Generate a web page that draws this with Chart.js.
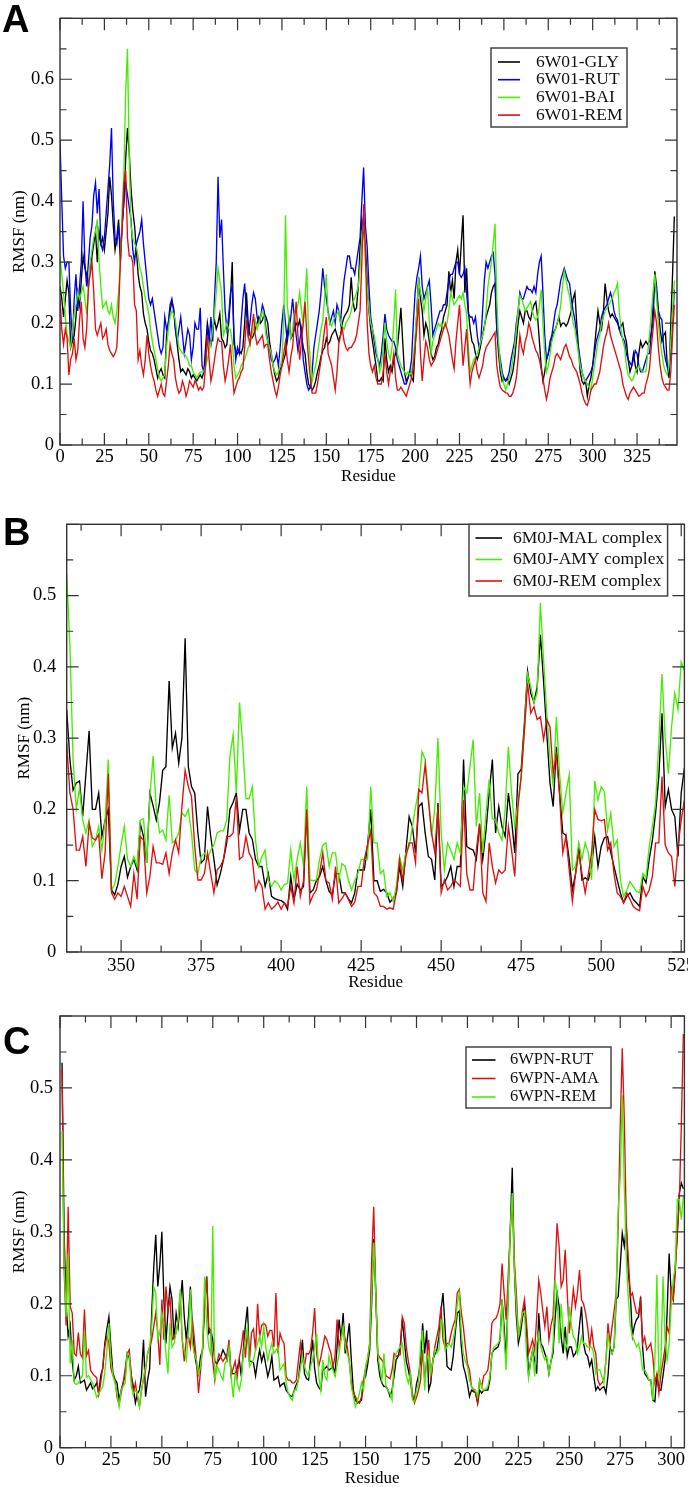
<!DOCTYPE html>
<html>
<head>
<meta charset="utf-8">
<script src="https://cdn.jsdelivr.net/npm/chart.js@4.4.1/dist/chart.umd.min.js"></script>
<style>
  html, body { margin: 0; padding: 0; background: #fff; }
  body { width: 688px; height: 1487px; position: relative; overflow: hidden; }
  canvas { position: absolute; left: 0; }
</style>
</head>
<body>
<canvas id="chart-a" width="688" height="490" style="top:0"></canvas>
<canvas id="chart-b" width="688" height="505" style="top:490px"></canvas>
<canvas id="chart-c" width="688" height="497" style="top:990px"></canvas>
<script>
// ---- panel A : 6W01, residues 0..346
const aStart = 0;
const aGly = [
  0.26, 0.24, 0.21, 0.24, 0.27, 0.25, 0.16, 0.17, 0.18, 0.21,
  0.25, 0.23, 0.27, 0.31, 0.29, 0.28, 0.26, 0.29, 0.31, 0.33,
  0.35, 0.30, 0.35, 0.33, 0.34, 0.32, 0.35, 0.38, 0.44, 0.41,
  0.36, 0.32, 0.34, 0.37, 0.30, 0.36, 0.40, 0.47, 0.52, 0.48,
  0.42, 0.385, 0.36, 0.32, 0.28, 0.26, 0.25, 0.215, 0.20, 0.19,
  0.17, 0.155, 0.15, 0.14, 0.125, 0.11, 0.12, 0.125, 0.115, 0.11,
  0.18, 0.20, 0.22, 0.235, 0.225, 0.19, 0.165, 0.14, 0.12, 0.125,
  0.12, 0.115, 0.125, 0.12, 0.11, 0.115, 0.11, 0.105, 0.11, 0.115,
  0.11, 0.12, 0.16, 0.20, 0.18, 0.165, 0.19, 0.205, 0.19, 0.2,
  0.215, 0.175, 0.17, 0.16, 0.165, 0.2, 0.24, 0.30, 0.165, 0.155,
  0.15, 0.155, 0.15, 0.16, 0.2, 0.25, 0.2, 0.18, 0.175, 0.18,
  0.19, 0.2, 0.21, 0.2, 0.205, 0.215, 0.21, 0.2, 0.17, 0.15,
  0.13, 0.115, 0.105, 0.11, 0.125, 0.13, 0.14, 0.15, 0.18, 0.205,
  0.175, 0.18, 0.19, 0.2, 0.195, 0.205, 0.18, 0.16, 0.15, 0.12,
  0.1, 0.095, 0.09, 0.095, 0.105, 0.12, 0.13, 0.145, 0.155, 0.16,
  0.175, 0.165, 0.17, 0.18, 0.185, 0.19, 0.18, 0.17, 0.18, 0.2,
  0.21, 0.215, 0.22, 0.23, 0.275, 0.235, 0.22, 0.225, 0.26, 0.325,
  0.37, 0.35, 0.325, 0.27, 0.22, 0.19, 0.17, 0.15, 0.13, 0.105,
  0.105, 0.11, 0.105, 0.175, 0.14, 0.12, 0.13, 0.12, 0.14, 0.15,
  0.16, 0.19, 0.225, 0.17, 0.12, 0.105, 0.11, 0.12, 0.11, 0.105,
  0.16, 0.22, 0.275, 0.24, 0.22, 0.18, 0.2, 0.19, 0.17, 0.15,
  0.14, 0.145, 0.16, 0.165, 0.18, 0.19, 0.21, 0.22, 0.23, 0.285,
  0.25, 0.27, 0.24, 0.3, 0.32, 0.28, 0.33, 0.377, 0.25, 0.29,
  0.22, 0.19, 0.17, 0.165, 0.15, 0.14, 0.15, 0.165, 0.18, 0.195,
  0.21, 0.22, 0.23, 0.25, 0.26, 0.265, 0.19, 0.15, 0.12, 0.105,
  0.11, 0.105, 0.11, 0.1, 0.11, 0.12, 0.14, 0.17, 0.2, 0.22,
  0.21, 0.2, 0.22, 0.22, 0.21, 0.205, 0.22, 0.23, 0.235, 0.21,
  0.17, 0.13, 0.105, 0.12, 0.14, 0.15, 0.16, 0.175, 0.185, 0.19,
  0.2, 0.21, 0.195, 0.2, 0.2, 0.195, 0.2, 0.21, 0.22, 0.24,
  0.25, 0.2, 0.16, 0.12, 0.105, 0.1, 0.105, 0.08, 0.1, 0.11,
  0.13, 0.16, 0.19, 0.22, 0.2, 0.19, 0.215, 0.265, 0.24, 0.22,
  0.21, 0.215, 0.21, 0.205, 0.2, 0.19, 0.195, 0.2, 0.18, 0.17,
  0.14, 0.12, 0.13, 0.15, 0.13, 0.12, 0.15, 0.17, 0.16, 0.165,
  0.17, 0.165, 0.17, 0.185, 0.2, 0.285, 0.26, 0.22, 0.19, 0.17,
  0.18, 0.185, 0.13, 0.11, 0.2, 0.28, 0.375
];
const aRut = [
  0.50, 0.40, 0.31, 0.29, 0.30, 0.30, 0.22, 0.17, 0.24, 0.28,
  0.22, 0.26, 0.30, 0.40, 0.30, 0.26, 0.30, 0.34, 0.36, 0.41,
  0.43, 0.38, 0.42, 0.33, 0.32, 0.34, 0.38, 0.42, 0.46, 0.52,
  0.40, 0.34, 0.33, 0.36, 0.32, 0.36, 0.40, 0.43, 0.41, 0.39,
  0.37, 0.32, 0.30, 0.33, 0.34, 0.35, 0.37, 0.33, 0.30, 0.27,
  0.24, 0.23, 0.24, 0.22, 0.20, 0.18, 0.16, 0.15, 0.16, 0.21,
  0.19, 0.20, 0.23, 0.24, 0.22, 0.19, 0.17, 0.19, 0.21, 0.18,
  0.15, 0.17, 0.19, 0.18, 0.14, 0.16, 0.20, 0.19, 0.19, 0.225,
  0.13, 0.12, 0.14, 0.19, 0.17, 0.21, 0.17, 0.24, 0.30, 0.44,
  0.34, 0.37, 0.29, 0.22, 0.19, 0.21, 0.25, 0.26, 0.18, 0.14,
  0.16, 0.15, 0.20, 0.24, 0.265, 0.22, 0.18, 0.20, 0.23, 0.25,
  0.24, 0.21, 0.20, 0.21, 0.23, 0.22, 0.19, 0.17, 0.16, 0.14,
  0.135, 0.14, 0.15, 0.13, 0.16, 0.20, 0.23, 0.20, 0.17, 0.19,
  0.21, 0.24, 0.21, 0.18, 0.155, 0.17, 0.19, 0.14, 0.12, 0.10,
  0.09, 0.095, 0.12, 0.16, 0.18, 0.20, 0.22, 0.25, 0.29, 0.26,
  0.24, 0.22, 0.20, 0.21, 0.22, 0.20, 0.23, 0.22, 0.20, 0.24,
  0.27, 0.29, 0.31, 0.31, 0.29, 0.29, 0.28, 0.30, 0.32, 0.34,
  0.40, 0.455, 0.36, 0.325, 0.26, 0.21, 0.19, 0.17, 0.15, 0.14,
  0.13, 0.15, 0.18, 0.215, 0.19, 0.18, 0.175, 0.17, 0.17, 0.16,
  0.14, 0.13, 0.12, 0.11, 0.10, 0.10, 0.11, 0.12, 0.14, 0.20,
  0.25, 0.275, 0.29, 0.31, 0.26, 0.24, 0.25, 0.26, 0.27, 0.23,
  0.18, 0.19, 0.2, 0.21, 0.22, 0.22, 0.23, 0.23, 0.25, 0.27,
  0.28, 0.28, 0.29, 0.30, 0.30, 0.28, 0.275, 0.28, 0.29, 0.25,
  0.215, 0.21, 0.21, 0.20, 0.21, 0.18, 0.16, 0.17, 0.22, 0.27,
  0.30, 0.29, 0.30, 0.31, 0.315, 0.28, 0.19, 0.16, 0.14, 0.12,
  0.11, 0.105, 0.11, 0.12, 0.14, 0.155, 0.17, 0.20, 0.22, 0.25,
  0.24, 0.24, 0.25, 0.26, 0.255, 0.255, 0.25, 0.26, 0.25, 0.28,
  0.30, 0.31, 0.25, 0.18, 0.14, 0.15, 0.17, 0.18, 0.20, 0.22,
  0.23, 0.25, 0.27, 0.28, 0.29, 0.28, 0.27, 0.265, 0.24, 0.22,
  0.205, 0.18, 0.16, 0.14, 0.12, 0.11, 0.105, 0.11, 0.115, 0.12,
  0.13, 0.15, 0.17, 0.18, 0.19, 0.21, 0.22, 0.225, 0.23, 0.24,
  0.25, 0.24, 0.22, 0.21, 0.205, 0.19, 0.18, 0.175, 0.17, 0.15,
  0.14, 0.135, 0.13, 0.14, 0.155, 0.15, 0.13, 0.12, 0.12, 0.13,
  0.14, 0.15, 0.15, 0.18, 0.23, 0.275, 0.25, 0.22, 0.21, 0.205,
  0.16, 0.14, 0.13, 0.12, 0.15, 0.2, 0.255
];
const aBai = [
  0.31, 0.28, 0.25, 0.21, 0.18, 0.17, 0.16, 0.19, 0.215, 0.23,
  0.25, 0.24, 0.25, 0.26, 0.24, 0.215, 0.25, 0.30, 0.32, 0.34,
  0.35, 0.37, 0.30, 0.26, 0.225, 0.23, 0.235, 0.22, 0.215, 0.23,
  0.21, 0.20, 0.22, 0.25, 0.30, 0.385, 0.45, 0.58, 0.65, 0.47,
  0.36, 0.34, 0.33, 0.325, 0.31, 0.29, 0.28, 0.26, 0.24, 0.23,
  0.215, 0.19, 0.17, 0.155, 0.14, 0.125, 0.11, 0.105, 0.11, 0.115,
  0.16, 0.19, 0.21, 0.22, 0.215, 0.205, 0.18, 0.16, 0.155, 0.15,
  0.15, 0.145, 0.14, 0.13, 0.13, 0.12, 0.115, 0.11, 0.115, 0.12,
  0.12, 0.12, 0.13, 0.14, 0.155, 0.17, 0.19, 0.215, 0.25, 0.29,
  0.27, 0.25, 0.18, 0.19, 0.2, 0.19, 0.19, 0.17, 0.13, 0.11,
  0.115, 0.12, 0.13, 0.135, 0.14, 0.15, 0.16, 0.165, 0.18, 0.19,
  0.205, 0.19, 0.2, 0.21, 0.22, 0.21, 0.18, 0.17, 0.16, 0.15,
  0.13, 0.12, 0.115, 0.12, 0.13, 0.14, 0.2, 0.377, 0.23, 0.2,
  0.175, 0.19, 0.215, 0.22, 0.23, 0.25, 0.22, 0.2, 0.24, 0.29,
  0.175, 0.14, 0.105, 0.12, 0.13, 0.15, 0.17, 0.19, 0.205, 0.24,
  0.28, 0.215, 0.2, 0.195, 0.205, 0.21, 0.215, 0.22, 0.2, 0.195,
  0.19, 0.2, 0.205, 0.21, 0.22, 0.235, 0.24, 0.25, 0.26, 0.29,
  0.34, 0.37, 0.3, 0.26, 0.225, 0.2, 0.19, 0.18, 0.16, 0.14,
  0.12, 0.13, 0.16, 0.2, 0.17, 0.15, 0.14, 0.16, 0.2, 0.255,
  0.15, 0.14, 0.13, 0.125, 0.12, 0.115, 0.12, 0.115, 0.12, 0.14,
  0.18, 0.22, 0.27, 0.25, 0.24, 0.22, 0.24, 0.26, 0.2, 0.15,
  0.17, 0.18, 0.19, 0.2, 0.195, 0.2, 0.19, 0.195, 0.2, 0.22,
  0.25, 0.24, 0.23, 0.235, 0.24, 0.245, 0.24, 0.25, 0.23, 0.215,
  0.16, 0.12, 0.13, 0.14, 0.145, 0.15, 0.16, 0.17, 0.18, 0.19,
  0.22, 0.26, 0.28, 0.30, 0.33, 0.363, 0.24, 0.17, 0.13, 0.115,
  0.1, 0.09, 0.1, 0.11, 0.12, 0.14, 0.16, 0.19, 0.22, 0.245,
  0.24, 0.23, 0.22, 0.225, 0.23, 0.235, 0.22, 0.21, 0.205, 0.21,
  0.23, 0.255, 0.2, 0.15, 0.12, 0.13, 0.15, 0.17, 0.18, 0.19,
  0.2, 0.21, 0.23, 0.26, 0.285, 0.27, 0.255, 0.245, 0.22, 0.2,
  0.19, 0.17, 0.15, 0.13, 0.12, 0.11, 0.105, 0.1, 0.095, 0.09,
  0.11, 0.13, 0.15, 0.17, 0.18, 0.2, 0.21, 0.22, 0.225, 0.23,
  0.235, 0.24, 0.25, 0.255, 0.265, 0.22, 0.19, 0.17, 0.16, 0.13,
  0.115, 0.11, 0.105, 0.11, 0.12, 0.125, 0.13, 0.125, 0.12, 0.12,
  0.12, 0.15, 0.18, 0.215, 0.25, 0.28, 0.24, 0.2, 0.17, 0.15,
  0.13, 0.12, 0.115, 0.13, 0.17, 0.22, 0.27
];
const aRem = [
  0.24, 0.19, 0.165, 0.19, 0.175, 0.115, 0.14, 0.15, 0.175, 0.14,
  0.155, 0.205, 0.235, 0.175, 0.16, 0.19, 0.26, 0.28, 0.30, 0.25,
  0.19, 0.18, 0.19, 0.2, 0.175, 0.18, 0.19, 0.165, 0.155, 0.15,
  0.145, 0.15, 0.16, 0.22, 0.30, 0.36, 0.43, 0.45, 0.34, 0.31,
  0.31, 0.30, 0.23, 0.22, 0.14, 0.155, 0.13, 0.115, 0.14, 0.18,
  0.15, 0.13, 0.115, 0.105, 0.09, 0.08, 0.09, 0.10, 0.085, 0.08,
  0.105, 0.13, 0.165, 0.15, 0.14, 0.11, 0.095, 0.085, 0.09, 0.105,
  0.095, 0.08, 0.09, 0.105, 0.1, 0.095, 0.105, 0.1, 0.09, 0.095,
  0.09, 0.095, 0.13, 0.18, 0.14, 0.105, 0.12, 0.14, 0.16, 0.175,
  0.17, 0.17, 0.13, 0.105, 0.12, 0.14, 0.165, 0.12, 0.085, 0.095,
  0.105, 0.11, 0.12, 0.125, 0.16, 0.205, 0.18, 0.165, 0.19, 0.215,
  0.18, 0.165, 0.17, 0.175, 0.18, 0.16, 0.165, 0.165, 0.14, 0.12,
  0.105, 0.09, 0.08, 0.095, 0.115, 0.13, 0.15, 0.17, 0.14, 0.12,
  0.145, 0.16, 0.2, 0.235, 0.18, 0.14, 0.17, 0.2, 0.235, 0.18,
  0.14, 0.11, 0.085, 0.085, 0.085, 0.1, 0.12, 0.14, 0.165, 0.19,
  0.21, 0.15, 0.14, 0.13, 0.11, 0.09, 0.12, 0.165, 0.18, 0.19,
  0.17, 0.16, 0.155, 0.16, 0.16, 0.165, 0.17, 0.18, 0.2, 0.22,
  0.3, 0.395, 0.32, 0.2, 0.15, 0.13, 0.12, 0.13, 0.11, 0.1,
  0.1, 0.1, 0.12, 0.15, 0.12, 0.1, 0.12, 0.13, 0.15, 0.11,
  0.09, 0.09, 0.095, 0.09, 0.085, 0.08, 0.09, 0.1, 0.11, 0.13,
  0.16, 0.195, 0.24, 0.15, 0.105, 0.14, 0.17, 0.16, 0.14, 0.13,
  0.135, 0.14, 0.15, 0.16, 0.17, 0.18, 0.19, 0.2, 0.19, 0.18,
  0.16, 0.14, 0.125, 0.17, 0.2, 0.23, 0.18, 0.13, 0.16, 0.19,
  0.14, 0.1, 0.12, 0.13, 0.14, 0.12, 0.11, 0.12, 0.13, 0.15,
  0.16, 0.165, 0.17, 0.175, 0.18, 0.185, 0.13, 0.11, 0.095, 0.09,
  0.088, 0.086, 0.085, 0.08, 0.08, 0.085, 0.095, 0.11, 0.14, 0.18,
  0.16, 0.15, 0.17, 0.18, 0.2, 0.19, 0.175, 0.165, 0.155, 0.15,
  0.14, 0.125, 0.11, 0.09, 0.075, 0.09, 0.11, 0.12, 0.13, 0.145,
  0.15, 0.145, 0.14, 0.15, 0.16, 0.165, 0.155, 0.145, 0.14, 0.13,
  0.125, 0.12, 0.11, 0.1, 0.085, 0.075, 0.068, 0.065, 0.075, 0.09,
  0.095, 0.1, 0.1, 0.11, 0.12, 0.14, 0.16, 0.175, 0.185, 0.2,
  0.18, 0.17, 0.16, 0.15, 0.14, 0.13, 0.12, 0.1, 0.09, 0.08,
  0.075, 0.085, 0.09, 0.095, 0.09, 0.085, 0.08, 0.082, 0.085, 0.085,
  0.1, 0.11, 0.125, 0.16, 0.19, 0.22, 0.2, 0.16, 0.13, 0.11,
  0.1, 0.095, 0.09, 0.09, 0.12, 0.18, 0.23
];
const aXTicks = [0, 25, 50, 75, 100, 125, 150, 175, 200, 225, 250, 275, 300, 325];
const aYTicks = [0, 0.1, 0.2, 0.3, 0.4, 0.5, 0.6];

// ---- panel B : 6M0J, residues 333..526
const bStart = 333;
const bMal = [
  0.34, 0.27, 0.227, 0.237, 0.24, 0.19, 0.25,
  0.31, 0.2, 0.2, 0.223, 0.162, 0.185, 0.2, 0.087, 0.08, 0.095,
  0.12, 0.134, 0.105, 0.12, 0.13, 0.115, 0.18, 0.162, 0.125, 0.223,
  0.205, 0.185, 0.21, 0.255, 0.26, 0.38, 0.286, 0.307, 0.265, 0.3,
  0.44, 0.26, 0.232, 0.223, 0.167, 0.125, 0.13, 0.204, 0.162, 0.13,
  0.094, 0.11, 0.13, 0.153, 0.2, 0.21, 0.223, 0.17, 0.2, 0.2,
  0.167, 0.158, 0.13, 0.12, 0.12, 0.092, 0.11, 0.078, 0.075, 0.073,
  0.072, 0.069, 0.06, 0.106, 0.073, 0.095, 0.087, 0.092, 0.2, 0.083,
  0.087, 0.1, 0.106, 0.12, 0.1, 0.085, 0.08, 0.11, 0.11, 0.083,
  0.083, 0.075, 0.069, 0.083, 0.115, 0.115, 0.115, 0.15, 0.2, 0.1,
  0.1, 0.085, 0.088, 0.083, 0.07, 0.075, 0.083, 0.12, 0.092, 0.143,
  0.19, 0.176, 0.139, 0.204, 0.209, 0.167, 0.134, 0.13, 0.101, 0.209,
  0.092, 0.097, 0.106, 0.12, 0.092, 0.12, 0.12, 0.27, 0.148, 0.145,
  0.143, 0.13, 0.18, 0.13, 0.17, 0.223, 0.27, 0.167, 0.204, 0.176,
  0.162, 0.223, 0.185, 0.139, 0.25, 0.256, 0.32, 0.394, 0.363, 0.35,
  0.372, 0.445, 0.38, 0.307, 0.237, 0.204, 0.288, 0.223, 0.167, 0.164,
  0.13, 0.087, 0.11, 0.148, 0.101, 0.104, 0.101, 0.12, 0.162, 0.12,
  0.148, 0.16, 0.162, 0.139, 0.12, 0.101, 0.083, 0.069, 0.078, 0.083,
  0.074, 0.069, 0.064, 0.106, 0.097, 0.13, 0.157, 0.195, 0.246, 0.335,
  0.204, 0.228, 0.2, 0.19, 0.134, 0.223, 0.258
];
const bAmy = [
  0.53, 0.43, 0.27, 0.2, 0.23, 0.185, 0.167,
  0.185, 0.148, 0.157, 0.176, 0.143, 0.185, 0.27, 0.087, 0.095, 0.12,
  0.15, 0.176, 0.13, 0.12, 0.134, 0.12, 0.185, 0.187, 0.125, 0.22,
  0.275, 0.2, 0.167, 0.171, 0.157, 0.22, 0.153, 0.157, 0.167, 0.195,
  0.19, 0.2, 0.167, 0.115, 0.11, 0.134, 0.139, 0.13, 0.143, 0.15,
  0.167, 0.17, 0.17, 0.185, 0.275, 0.305, 0.223, 0.35, 0.29, 0.215,
  0.215, 0.232, 0.157, 0.12, 0.134, 0.143, 0.101, 0.092, 0.1, 0.096,
  0.087, 0.095, 0.096, 0.143, 0.101, 0.13, 0.153, 0.12, 0.232, 0.101,
  0.1, 0.101, 0.13, 0.15, 0.153, 0.12, 0.139, 0.139, 0.101, 0.124,
  0.12, 0.101, 0.087, 0.1, 0.11, 0.13, 0.13, 0.13, 0.232, 0.153,
  0.153, 0.11, 0.115, 0.078, 0.083, 0.071, 0.092, 0.134, 0.115, 0.139,
  0.148, 0.176, 0.204, 0.227, 0.281, 0.27, 0.223, 0.162, 0.2, 0.3,
  0.167, 0.115, 0.153, 0.143, 0.13, 0.153, 0.139, 0.232, 0.223, 0.26,
  0.298, 0.176, 0.223, 0.139, 0.195, 0.242, 0.187, 0.185, 0.167, 0.157,
  0.2, 0.288, 0.223, 0.176, 0.21, 0.246, 0.31, 0.39, 0.372, 0.35,
  0.363, 0.49, 0.41, 0.335, 0.274, 0.232, 0.33, 0.25, 0.195, 0.223,
  0.249, 0.115, 0.12, 0.153, 0.13, 0.153, 0.139, 0.101, 0.24, 0.213,
  0.232, 0.225, 0.171, 0.195, 0.148, 0.157, 0.101, 0.078, 0.087, 0.099,
  0.092, 0.085, 0.083, 0.11, 0.105, 0.148, 0.176, 0.209, 0.293, 0.39,
  0.3, 0.25, 0.316, 0.363, 0.34, 0.407, 0.395
];
const bRem = [
  0.293, 0.223, 0.2, 0.143, 0.143, 0.162, 0.12,
  0.18, 0.16, 0.157, 0.165, 0.103, 0.139, 0.25, 0.083, 0.074, 0.083,
  0.078, 0.092, 0.078, 0.064, 0.11, 0.074, 0.162, 0.157, 0.083, 0.106,
  0.148, 0.125, 0.125, 0.123, 0.139, 0.11, 0.139, 0.157, 0.139, 0.204,
  0.255, 0.232, 0.218, 0.148, 0.101, 0.101, 0.11, 0.139, 0.11, 0.083,
  0.115, 0.12, 0.13, 0.162, 0.162, 0.167, 0.218, 0.13, 0.134, 0.162,
  0.139, 0.13, 0.087, 0.1, 0.092, 0.06, 0.069, 0.06, 0.064, 0.07,
  0.06, 0.069, 0.064, 0.092, 0.069, 0.12, 0.078, 0.1, 0.2, 0.069,
  0.08, 0.087, 0.11, 0.139, 0.1, 0.097, 0.074, 0.12, 0.069, 0.075,
  0.083, 0.074, 0.064, 0.07, 0.092, 0.092, 0.13, 0.15, 0.17, 0.083,
  0.078, 0.064, 0.064, 0.06, 0.062, 0.06, 0.083, 0.13, 0.101, 0.134,
  0.153, 0.153, 0.125, 0.228, 0.223, 0.263, 0.213, 0.167, 0.14, 0.204,
  0.083, 0.101, 0.087, 0.092, 0.101, 0.097, 0.092, 0.213, 0.11, 0.087,
  0.087, 0.143, 0.18, 0.083, 0.071, 0.153, 0.12, 0.097, 0.115, 0.11,
  0.115, 0.176, 0.143, 0.106, 0.204, 0.246, 0.31, 0.377, 0.335, 0.344,
  0.326, 0.33, 0.298, 0.326, 0.316, 0.25, 0.277, 0.22, 0.139, 0.162,
  0.115, 0.071, 0.11, 0.139, 0.11, 0.083, 0.11, 0.139, 0.2, 0.186,
  0.184, 0.186, 0.143, 0.153, 0.11, 0.083, 0.078, 0.069, 0.083, 0.074,
  0.064, 0.06, 0.058, 0.092, 0.078, 0.087, 0.106, 0.153, 0.153, 0.246,
  0.15, 0.139, 0.134, 0.092, 0.148, 0.185, 0.213
];
const bXTicks = [350, 375, 400, 425, 450, 475, 500, 525];
const bYTicks = [0, 0.1, 0.2, 0.3, 0.4, 0.5];

// ---- panel C : 6WPN, residues 1..306
const cStart = 1;
const cRut = [
  0.535, 0.3, 0.2, 0.155, 0.17, 0.12, 0.094, 0.1, 0.113, 0.09,
  0.092, 0.094, 0.08, 0.085, 0.09, 0.082, 0.085, 0.09, 0.075, 0.1,
  0.11, 0.145, 0.165, 0.182, 0.14, 0.103, 0.095, 0.09, 0.066, 0.08,
  0.09, 0.1, 0.131, 0.125, 0.1, 0.085, 0.062, 0.075, 0.08, 0.1,
  0.15, 0.071, 0.094, 0.11, 0.187, 0.25, 0.296, 0.224, 0.254, 0.3,
  0.206, 0.145, 0.19, 0.224, 0.206, 0.15, 0.187, 0.168, 0.2, 0.233,
  0.182, 0.15, 0.18, 0.224, 0.168, 0.131, 0.115, 0.103, 0.127, 0.136,
  0.2, 0.238, 0.159, 0.164, 0.15, 0.12, 0.117, 0.122, 0.127, 0.136,
  0.13, 0.122, 0.14, 0.103, 0.103, 0.103, 0.11, 0.122, 0.099, 0.136,
  0.17, 0.196, 0.12, 0.12, 0.118, 0.1, 0.12, 0.136, 0.12, 0.131,
  0.115, 0.099, 0.11, 0.127, 0.094, 0.096, 0.099, 0.085, 0.088, 0.09,
  0.08, 0.076, 0.072, 0.071, 0.08, 0.088, 0.094, 0.12, 0.15, 0.103,
  0.096, 0.094, 0.122, 0.15, 0.11, 0.09, 0.084, 0.08, 0.108, 0.11,
  0.113, 0.108, 0.11, 0.113, 0.103, 0.14, 0.178, 0.15, 0.187, 0.131,
  0.15, 0.173, 0.122, 0.08, 0.066, 0.062, 0.064, 0.066, 0.094, 0.099,
  0.115, 0.136, 0.2, 0.29, 0.215, 0.122, 0.1, 0.09, 0.085, 0.085,
  0.08, 0.071, 0.08, 0.1, 0.122, 0.127, 0.14, 0.178, 0.15, 0.12,
  0.108, 0.094, 0.071, 0.066, 0.089, 0.1, 0.122, 0.173, 0.131, 0.163,
  0.08, 0.09, 0.122, 0.13, 0.136, 0.154, 0.19, 0.215, 0.168, 0.113,
  0.11, 0.108, 0.127, 0.159, 0.187, 0.19, 0.14, 0.113, 0.103, 0.089,
  0.071, 0.08, 0.078, 0.076, 0.062, 0.08, 0.076, 0.08, 0.08, 0.08,
  0.094, 0.131, 0.136, 0.138, 0.14, 0.15, 0.206, 0.168, 0.122, 0.215,
  0.3, 0.389, 0.252, 0.182, 0.145, 0.159, 0.18, 0.196, 0.164, 0.1,
  0.12, 0.136, 0.122, 0.103, 0.187, 0.145, 0.14, 0.131, 0.122, 0.103,
  0.12, 0.131, 0.178, 0.215, 0.196, 0.154, 0.131, 0.168, 0.127, 0.14,
  0.14, 0.127, 0.131, 0.14, 0.17, 0.196, 0.145, 0.131, 0.127, 0.113,
  0.122, 0.1, 0.08, 0.085, 0.08, 0.083, 0.085, 0.076, 0.1, 0.14,
  0.131, 0.14, 0.206, 0.21, 0.252, 0.298, 0.28, 0.308, 0.243, 0.21,
  0.155, 0.17, 0.178, 0.182, 0.21, 0.14, 0.103, 0.099, 0.094, 0.094,
  0.066, 0.064, 0.103, 0.08, 0.08, 0.1, 0.122, 0.187, 0.27, 0.215,
  0.206, 0.252, 0.294, 0.354, 0.368, 0.36
];
const cAma = [
  0.525, 0.25, 0.17, 0.335, 0.196, 0.187, 0.131, 0.128, 0.16, 0.13,
  0.125, 0.192, 0.128, 0.135, 0.108, 0.103, 0.1, 0.097, 0.075, 0.09,
  0.113, 0.14, 0.155, 0.146, 0.11, 0.1, 0.094, 0.07, 0.06, 0.075,
  0.09, 0.11, 0.131, 0.136, 0.1, 0.075, 0.09, 0.07, 0.057, 0.08,
  0.095, 0.108, 0.131, 0.14, 0.15, 0.168, 0.187, 0.16, 0.115, 0.206,
  0.15, 0.224, 0.19, 0.21, 0.15, 0.155, 0.16, 0.175, 0.215, 0.15,
  0.12, 0.15, 0.155, 0.14, 0.178, 0.15, 0.12, 0.076, 0.108, 0.14,
  0.2, 0.238, 0.168, 0.159, 0.12, 0.094, 0.117, 0.13, 0.125, 0.12,
  0.125, 0.13, 0.15, 0.1, 0.11, 0.12, 0.099, 0.125, 0.14, 0.163,
  0.125, 0.163, 0.12, 0.16, 0.165, 0.135, 0.2, 0.154, 0.17, 0.173,
  0.17, 0.155, 0.163, 0.163, 0.14, 0.215, 0.131, 0.159, 0.15, 0.145,
  0.099, 0.094, 0.094, 0.09, 0.09, 0.094, 0.12, 0.145, 0.122, 0.113,
  0.131, 0.13, 0.136, 0.16, 0.194, 0.13, 0.113, 0.125, 0.14, 0.155,
  0.15, 0.14, 0.131, 0.113, 0.127, 0.178, 0.14, 0.155, 0.168, 0.15,
  0.14, 0.12, 0.09, 0.076, 0.071, 0.065, 0.062, 0.071, 0.094, 0.11,
  0.122, 0.145, 0.261, 0.335, 0.215, 0.131, 0.125, 0.122, 0.117, 0.1,
  0.098, 0.096, 0.108, 0.131, 0.127, 0.128, 0.129, 0.182, 0.173, 0.14,
  0.12, 0.103, 0.076, 0.062, 0.07, 0.08, 0.094, 0.136, 0.094, 0.122,
  0.15, 0.094, 0.12, 0.14, 0.154, 0.168, 0.196, 0.15, 0.14, 0.145,
  0.145, 0.159, 0.17, 0.178, 0.215, 0.22, 0.187, 0.168, 0.14, 0.117,
  0.108, 0.085, 0.08, 0.076, 0.062, 0.094, 0.085, 0.1, 0.103, 0.108,
  0.131, 0.173, 0.178, 0.18, 0.187, 0.2, 0.256, 0.215, 0.178, 0.238,
  0.3, 0.35, 0.261, 0.215, 0.155, 0.168, 0.19, 0.206, 0.173, 0.131,
  0.14, 0.15, 0.136, 0.182, 0.233, 0.215, 0.19, 0.168, 0.196, 0.15,
  0.17, 0.182, 0.243, 0.312, 0.28, 0.224, 0.233, 0.275, 0.215, 0.159,
  0.19, 0.22, 0.196, 0.215, 0.247, 0.206, 0.2, 0.187, 0.168, 0.14,
  0.164, 0.14, 0.131, 0.094, 0.087, 0.09, 0.094, 0.122, 0.173, 0.145,
  0.168, 0.19, 0.215, 0.308, 0.447, 0.555, 0.456, 0.308, 0.261, 0.21,
  0.215, 0.2, 0.187, 0.187, 0.204, 0.145, 0.154, 0.136, 0.14, 0.145,
  0.127, 0.09, 0.103, 0.076, 0.103, 0.12, 0.14, 0.168, 0.159, 0.224,
  0.206, 0.243, 0.3, 0.34, 0.45, 0.575
];
const cRem = [
  0.44, 0.26, 0.182, 0.27, 0.117, 0.15, 0.09, 0.088, 0.09, 0.095,
  0.1, 0.163, 0.098, 0.1, 0.095, 0.09, 0.08, 0.07, 0.075, 0.08,
  0.085, 0.105, 0.135, 0.173, 0.122, 0.1, 0.09, 0.075, 0.057, 0.08,
  0.085, 0.09, 0.131, 0.128, 0.085, 0.075, 0.08, 0.075, 0.057, 0.08,
  0.099, 0.113, 0.131, 0.14, 0.168, 0.224, 0.215, 0.15, 0.16, 0.187,
  0.173, 0.131, 0.103, 0.173, 0.14, 0.145, 0.16, 0.178, 0.22, 0.15,
  0.135, 0.122, 0.154, 0.22, 0.145, 0.13, 0.122, 0.103, 0.113, 0.14,
  0.238, 0.17, 0.14, 0.13, 0.308, 0.094, 0.113, 0.108, 0.1, 0.094,
  0.117, 0.122, 0.14, 0.1, 0.07, 0.103, 0.09, 0.08, 0.094, 0.132,
  0.15, 0.168, 0.113, 0.118, 0.122, 0.136, 0.145, 0.155, 0.14, 0.168,
  0.14, 0.122, 0.135, 0.145, 0.131, 0.135, 0.14, 0.108, 0.112, 0.117,
  0.09, 0.076, 0.07, 0.066, 0.08, 0.08, 0.094, 0.11, 0.127, 0.113,
  0.105, 0.099, 0.113, 0.122, 0.14, 0.159, 0.1, 0.08, 0.122, 0.1,
  0.094, 0.127, 0.115, 0.108, 0.099, 0.115, 0.131, 0.15, 0.168, 0.14,
  0.13, 0.122, 0.085, 0.071, 0.057, 0.065, 0.076, 0.09, 0.08, 0.113,
  0.125, 0.145, 0.215, 0.285, 0.215, 0.131, 0.11, 0.094, 0.131, 0.085,
  0.08, 0.075, 0.066, 0.122, 0.131, 0.136, 0.14, 0.145, 0.122, 0.1,
  0.09, 0.103, 0.066, 0.064, 0.08, 0.09, 0.145, 0.163, 0.08, 0.122,
  0.131, 0.103, 0.12, 0.136, 0.131, 0.136, 0.178, 0.173, 0.136, 0.14,
  0.145, 0.14, 0.15, 0.168, 0.2, 0.215, 0.159, 0.131, 0.12, 0.113,
  0.094, 0.085, 0.082, 0.08, 0.071, 0.094, 0.085, 0.08, 0.082, 0.085,
  0.099, 0.131, 0.14, 0.142, 0.145, 0.15, 0.206, 0.154, 0.108, 0.215,
  0.3, 0.354, 0.252, 0.196, 0.155, 0.17, 0.187, 0.19, 0.131, 0.097,
  0.12, 0.136, 0.099, 0.145, 0.159, 0.14, 0.13, 0.122, 0.127, 0.103,
  0.12, 0.14, 0.233, 0.215, 0.145, 0.2, 0.16, 0.136, 0.145, 0.196,
  0.17, 0.154, 0.15, 0.131, 0.14, 0.154, 0.145, 0.145, 0.14, 0.14,
  0.14, 0.131, 0.103, 0.108, 0.108, 0.099, 0.09, 0.122, 0.159, 0.136,
  0.131, 0.14, 0.215, 0.331, 0.377, 0.49, 0.363, 0.261, 0.206, 0.168,
  0.155, 0.148, 0.14, 0.145, 0.131, 0.108, 0.108, 0.103, 0.094, 0.094,
  0.066, 0.122, 0.24, 0.094, 0.12, 0.238, 0.15, 0.122, 0.145, 0.196,
  0.233, 0.252, 0.345, 0.345, 0.317, 0.35
];
const cXTicks = [0, 25, 50, 75, 100, 125, 150, 175, 200, 225, 250, 275, 300];
const cYTicks = [0, 0.1, 0.2, 0.3, 0.4, 0.5];

const BLACK = '#000000', BLUE = '#0000f0', GREEN = '#44ee00', RED = '#dd1010';
const SERIF = '"Liberation Serif", "Times New Roman", serif';

// xmgrace style frame: box, inward major/minor ticks on four sides, legend box, panel letter
const graceFrame = {
  id: 'graceFrame',
  afterDatasetsDraw(chart, args, opts) {
    const { ctx, chartArea: a, scales: { x, y } } = chart;
    ctx.save();
    ctx.strokeStyle = '#333';
    ctx.lineWidth = 1.4;
    ctx.strokeRect(a.left, a.top, a.right - a.left, a.bottom - a.top);

    ctx.lineWidth = 1.2;
    ctx.beginPath();
    for (let k = Math.ceil(x.min / opts.xStep - 1e-9); k * opts.xStep <= x.max + 1e-9; k++) {
      const px = x.getPixelForValue(k * opts.xStep);
      const len = k % 2 === 0 ? 12 : 6.5;
      ctx.moveTo(px, a.bottom); ctx.lineTo(px, a.bottom - len);
      ctx.moveTo(px, a.top); ctx.lineTo(px, a.top + len);
    }
    for (let k = Math.ceil(y.min / opts.yStep - 1e-9); k * opts.yStep <= y.max + 1e-9; k++) {
      const py = y.getPixelForValue(k * opts.yStep);
      const len = k % 2 === 0 ? 12 : 6.5;
      ctx.moveTo(a.left, py); ctx.lineTo(a.left + len, py);
      ctx.moveTo(a.right, py); ctx.lineTo(a.right - len, py);
    }
    ctx.stroke();

    const L = opts.legend;
    ctx.fillStyle = '#fff';
    ctx.fillRect(L.x, L.y, L.w, L.h);
    ctx.strokeStyle = '#444';
    ctx.lineWidth = 1.5;
    ctx.strokeRect(L.x, L.y, L.w, L.h);
    ctx.font = L.size + 'px ' + SERIF;
    ctx.textBaseline = 'middle';
    ctx.textAlign = 'left';
    chart.data.datasets.forEach((ds, i) => {
      const yy = L.row0 + i * L.gap;
      ctx.strokeStyle = ds.borderColor;
      ctx.lineWidth = 1.6;
      ctx.beginPath(); ctx.moveTo(L.x1, yy); ctx.lineTo(L.x2, yy); ctx.stroke();
      ctx.fillStyle = '#111';
      ctx.fillText(ds.label, L.tx, yy);
    });

    ctx.font = 'bold 38px "Liberation Sans", Arial, sans-serif';
    ctx.fillStyle = '#000';
    ctx.textBaseline = 'alphabetic';
    ctx.fillText(opts.letter, opts.letterX, opts.letterY);
    ctx.restore();
  }
};

function makePanel(id, p) {
  const residues = p.series[0].values.map((_, i) => p.start + i);
  const n = p.series.length;
  return new Chart(document.getElementById(id), {
    type: 'line',
    data: {
      datasets: p.series.map((s, i) => ({
        label: s.label,
        data: residues.map((r, k) => ({ x: r, y: s.values[k] })),
        borderColor: s.color,
        borderWidth: 1.35,
        pointRadius: 0,
        tension: 0,
        fill: false,
        order: n - i
      }))
    },
    plugins: [graceFrame],
    options: {
      responsive: false,
      animation: false,
      events: [],
      layout: { padding: { left: 0, top: p.area.top, right: 688 - p.area.right, bottom: 0 } },
      plugins: {
        legend: { display: false },
        tooltip: { enabled: false },
        graceFrame: { xStep: p.xStep, yStep: 0.05, legend: p.legend, letter: p.letter, letterX: p.letterX, letterY: p.letterY }
      },
      scales: {
        x: {
          type: 'linear', min: p.xMin, max: p.xMax,
          grid: { display: false, drawTicks: false },
          border: { display: false },
          ticks: { autoSkip: false, maxRotation: 0, color: '#000', padding: p.xPad,
                   font: { family: SERIF, size: 18.5 }, callback: v => String(v) },
          afterBuildTicks: s => { s.ticks = p.xTicks.map(v => ({ value: v })); },
          afterFit: s => { s.height = p.h - p.area.bottom; s.paddingLeft = 0; s.paddingRight = 0; },
          title: { display: true, text: 'Residue', color: '#000',
                   font: { family: SERIF, size: 17, lineHeight: 1 }, padding: { top: 0, bottom: p.xTitlePad } }
        },
        y: {
          type: 'linear', min: 0, max: p.yMax,
          grid: { display: false, drawTicks: false },
          border: { display: false },
          ticks: { autoSkip: false, color: '#000', padding: p.yPad,
                   font: { family: SERIF, size: 18.5 }, callback: v => String(v) },
          afterBuildTicks: s => { s.ticks = p.yTicks.map(v => ({ value: v })); },
          afterFit: s => { s.width = p.area.left; s.paddingTop = 0; s.paddingBottom = 0; },
          title: { display: true, text: 'RMSF (nm)', color: '#000',
                   font: { family: SERIF, size: 17, lineHeight: 1 }, padding: { top: p.yTitlePad, bottom: 0 } }
        }
      }
    }
  });
}

makePanel('chart-a', {
  start: aStart, h: 490,
  series: [
    { label: '6W01-GLY', values: aGly, color: BLACK },
    { label: '6W01-RUT', values: aRut, color: BLUE },
    { label: '6W01-BAI', values: aBai, color: GREEN },
    { label: '6W01-REM', values: aRem, color: RED }
  ],
  area: { left: 60, right: 677, top: 18.3, bottom: 445 },
  xMin: 0, xMax: 347.5, xStep: 12.5, xTicks: aXTicks,
  yMax: 0.7, yTicks: aYTicks,
  xPad: 1.5, yPad: 6, xTitlePad: 5, yTitlePad: 11,
  legend: { x: 491, y: 48, w: 136, h: 79, row0: 62, gap: 17.7, x1: 498, x2: 520, tx: 536, size: 17.5 },
  letter: 'A', letterX: 2, letterY: 32
});

makePanel('chart-b', {
  start: bStart, h: 505,
  series: [
    { label: '6M0J-MAL complex', values: bMal, color: BLACK },
    { label: '6M0J-AMY complex', values: bAmy, color: GREEN },
    { label: '6M0J-REM complex', values: bRem, color: RED }
  ],
  area: { left: 66.7, right: 684.4, top: 34.3, bottom: 462 },
  xMin: 333, xMax: 526, xStep: 12.5, xTicks: bXTicks,
  yMax: 0.6, yTicks: bYTicks,
  xPad: 3, yPad: 10.5, xTitlePad: 3.5, yTitlePad: 16,
  legend: { x: 469, y: 34.3, w: 198.6, h: 71.7, row0: 48, gap: 21.5, x1: 475.5, x2: 502, tx: 513, size: 17.5 },
  letter: 'B', letterX: 3, letterY: 55
});

makePanel('chart-c', {
  start: cStart, h: 497,
  series: [
    { label: '6WPN-RUT', values: cRut, color: BLACK },
    { label: '6WPN-AMA', values: cAma, color: RED },
    { label: '6WPN-REM', values: cRem, color: GREEN }
  ],
  area: { left: 60, right: 684.4, top: 26, bottom: 457.7 },
  xMin: 0, xMax: 306.5, xStep: 12.5, xTicks: cXTicks,
  yMax: 0.6, yTicks: cYTicks,
  xPad: 1.2, yPad: 7, xTitlePad: 0, yTitlePad: 11,
  legend: { x: 466, y: 57, w: 145, h: 61, row0: 70, gap: 18.5, x1: 472, x2: 495.5, tx: 510, size: 16.5 },
  letter: 'C', letterX: 3, letterY: 64
});
</script>
</body>
</html>
